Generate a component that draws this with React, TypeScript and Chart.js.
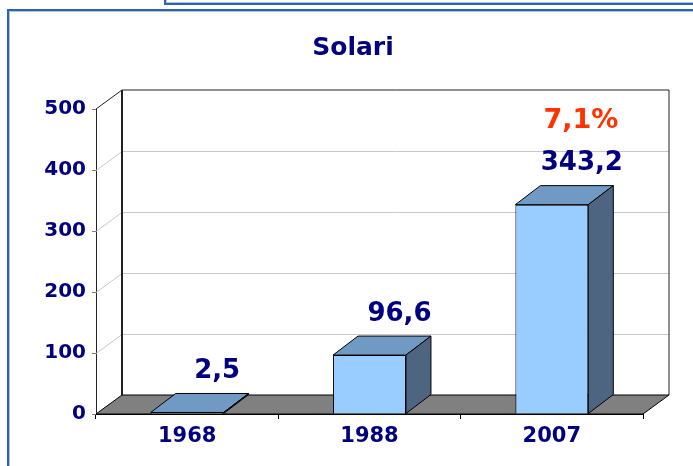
import React, { useEffect, useRef } from 'react';
import { Chart, registerables } from 'chart.js';

Chart.register(...registerables);

// ---- data ----
const categories = ['1968', '1988', '2007'];
const values = [2.5, 96.6, 343.2];
const growthLabel = '7,1%';
const chartTitle = 'Solari';
const yMin = 0;
const yMax = 500;
const yStep = 100;

// ---- styles ----
const FONT = "'DejaVu Sans', Verdana, sans-serif";
const NAVY = '#000080';
const RED = '#FF3300';
const FRONT = '#99CCFF';
const TOP = '#7099C3';
const SIDE = '#4E6581';
const FLOOR = '#808080';
const GRID = '#C8C8C8';
const WALL_DX = 26;
const BAR_DX = 25;
const DY = -19;

const fmt = (v: number) => String(v).replace('.', ',');

const threeD = {
  id: 'threeD',
  beforeDatasetsDraw(chart: any) {
    const { ctx, chartArea, scales } = chart;
    const { left, right, top, bottom } = chartArea;
    const y = scales.y;
    ctx.save();
    ctx.strokeStyle = GRID;
    ctx.lineWidth = 1;
    for (let v = yMin + yStep; v < yMax; v += yStep) {
      const py = Math.round(y.getPixelForValue(v)) + 0.5;
      ctx.beginPath();
      ctx.moveTo(left, py);
      ctx.lineTo(left + WALL_DX, py + DY);
      ctx.lineTo(right + WALL_DX, py + DY);
      ctx.stroke();
    }
    ctx.strokeStyle = '#222';
    ctx.lineWidth = 1;
    ctx.beginPath();
    ctx.moveTo(left, top);
    ctx.lineTo(left + WALL_DX, top + DY);
    ctx.lineTo(right + WALL_DX, top + DY);
    ctx.lineTo(right + WALL_DX, bottom + DY);
    ctx.stroke();
    ctx.lineWidth = 2;
    ctx.beginPath();
    ctx.moveTo(left + WALL_DX, top + DY);
    ctx.lineTo(left + WALL_DX, bottom + DY);
    ctx.stroke();
    ctx.fillStyle = FLOOR;
    ctx.strokeStyle = '#000';
    ctx.lineWidth = 1;
    ctx.beginPath();
    ctx.moveTo(left, bottom);
    ctx.lineTo(right, bottom);
    ctx.lineTo(right + WALL_DX, bottom + DY);
    ctx.lineTo(left + WALL_DX, bottom + DY);
    ctx.closePath();
    ctx.fill();
    ctx.stroke();
    ctx.restore();
  },
  afterDatasetsDraw(chart: any) {
    const { ctx } = chart;
    const meta = chart.getDatasetMeta(0);
    ctx.save();
    ctx.strokeStyle = '#000';
    ctx.lineWidth = 1;
    meta.data.forEach((el: any, i: number) => {
      const { x, y, base, width } = el.getProps(['x', 'y', 'base', 'width'], true);
      const l = x - width / 2;
      const r = x + width / 2;
      ctx.fillStyle = TOP;
      ctx.beginPath();
      ctx.moveTo(l, y);
      ctx.lineTo(l + BAR_DX, y + DY);
      ctx.lineTo(r + BAR_DX, y + DY);
      ctx.lineTo(r, y);
      ctx.closePath();
      ctx.fill();
      ctx.stroke();
      ctx.fillStyle = SIDE;
      ctx.beginPath();
      ctx.moveTo(r, y);
      ctx.lineTo(r + BAR_DX, y + DY);
      ctx.lineTo(r + BAR_DX, base + DY);
      ctx.lineTo(r, base);
      ctx.closePath();
      ctx.fill();
      ctx.stroke();
      ctx.textAlign = 'center';
      ctx.textBaseline = 'middle';
      ctx.fillStyle = NAVY;
      ctx.font = `bold 26px ${FONT}`;
      ctx.fillText(fmt(values[i]), x + 30, y - 41);
      if (i === meta.data.length - 1) {
        ctx.fillStyle = RED;
        ctx.font = `bold 27px ${FONT}`;
        ctx.fillText(growthLabel, x + 29, y - 84);
      }
    });
    ctx.restore();
  },
  afterDraw(chart: any) {
    const { ctx } = chart;
    ctx.save();
    ctx.fillStyle = NAVY;
    ctx.font = `bold 25px ${FONT}`;
    ctx.textAlign = 'center';
    ctx.textBaseline = 'middle';
    ctx.fillText(chartTitle, 353, 48);
    ctx.restore();
  },
};

export default function App() {
  const ref = useRef<HTMLCanvasElement | null>(null);
  useEffect(() => {
    if (!ref.current) return;
    const chart = new Chart(ref.current, {
      type: 'bar',
      data: {
        labels: categories,
        datasets: [
          {
            data: values,
            backgroundColor: FRONT,
            borderColor: '#000',
            borderWidth: 1,
            barPercentage: 0.4,
            categoryPercentage: 1,
          },
        ],
      },
      options: {
        responsive: false,
        animation: false,
        layout: { padding: { left: 0, right: 50, top: 109, bottom: 0 } },
        plugins: {
          legend: { display: false },
          tooltip: { enabled: false },
          title: { display: false },
        },
        scales: {
          x: {
            grid: { display: true, offset: true, drawOnChartArea: false, drawTicks: true, tickLength: 5, color: '#000' },
            border: { display: true, color: '#000', width: 1 },
            ticks: { color: NAVY, font: { family: FONT, size: 21, weight: 'bold' }, padding: 5 },
            afterFit: (s: any) => {
              s.height = 52;
            },
          },
          y: {
            min: yMin,
            max: yMax,
            ticks: { stepSize: yStep, color: NAVY, font: { family: FONT, size: 20, weight: 'bold' }, padding: 6 },
            grid: { display: true, drawOnChartArea: false, drawTicks: true, tickLength: 4, color: '#808080' },
            border: { display: true, color: '#222', width: 1 },
            afterFit: (s: any) => {
              s.width = 96;
            },
          },
        },
      },
      plugins: [threeD],
    } as any);
    return () => chart.destroy();
  }, []);

  return (
    <div style={{ position: 'fixed', left: 0, top: 0, width: 693, height: 466, background: '#fff', overflow: 'hidden' }}>
      <canvas ref={ref} width={693} height={466} style={{ position: 'absolute', left: 0, top: 0 }} />
      <div
        style={{
          position: 'absolute', left: 164, top: -30, width: 600, height: 35,
          border: '2px solid #2E63AC', boxShadow: 'inset 0 0 0 1px #A8C4E6', boxSizing: 'border-box',
        }}
      />
      <div
        style={{
          position: 'absolute', left: 7, top: 9, width: 720, height: 500,
          border: '2px solid #2E63AC', boxShadow: 'inset 0 0 0 1px #A8C4E6', boxSizing: 'border-box',
        }}
      />
    </div>
  );
}
